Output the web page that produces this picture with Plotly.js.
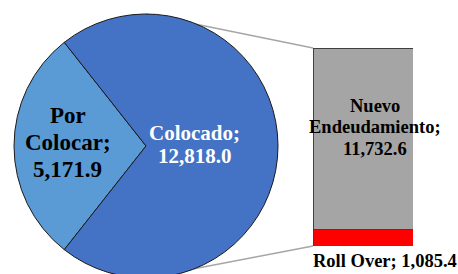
<!DOCTYPE html>
<html>
<head>
<meta charset="utf-8">
<script src="https://cdn.plot.ly/plotly-3.0.1.min.js"></script>
<style>
html,body{margin:0;padding:0;overflow:hidden;background:#fff;width:458px;height:274px;}
#chart{width:458px;height:292px;}
</style>
</head>
<body>
<div id="chart"></div>
<script>
// ---- data ----
var pieLabels = ["Por Colocar", "Colocado"];
var pieValues = [5171.9, 12818.0];
var pieColors = ["#5B9BD5", "#4472C4"];
var barLabels = ["Roll Over", "Nuevo Endeudamiento"];
var barValues = [1085.4, 11732.6];
var barColors = ["#FF0000", "#A5A5A5"];

// ---- layout constants (pixels) ----
var W = 458, H = 292, MT = 14, MB = 14;
var PH = H - MT - MB;
function px2x(px){ return px / W; }
function py2y(py){ return 1 - (py - MT) / PH; }

var pieLeft = 14, pieRight = 278;
var barLeft = 313, barRight = 413, barTop = 48, barBottom = 246;

function fmt(v){
  return v.toLocaleString("en-US", {minimumFractionDigits:1, maximumFractionDigits:1});
}

var total = pieValues.reduce(function(a,b){return a+b;}, 0);
var frac0 = pieValues[0] / total;
var rotation = -90 - frac0 * 180;

var traces = [{
  type: "pie",
  labels: pieLabels,
  values: pieValues,
  sort: false,
  direction: "counterclockwise",
  rotation: rotation,
  domain: {x: [px2x(pieLeft), px2x(pieRight)], y: [0, 1]},
  marker: {colors: pieColors, line: {color: "#1a1a1a", width: 1}},
  textinfo: "none",
  hoverinfo: "none",
  showlegend: false
}];
barLabels.forEach(function(lbl, i){
  traces.push({
    type: "bar",
    x: [0],
    y: [barValues[i]],
    width: [1],
    name: lbl,
    marker: {color: barColors[i], line: {color: "#404040", width: 1}},
    hoverinfo: "none",
    showlegend: false
  });
});

var barTotal = barValues.reduce(function(a,b){return a+b;}, 0);
var yDom = [py2y(barBottom), py2y(barTop)];

var fontFam = "Times New Roman";
var ann = [];
function addLines(lines, cx, baselines, size, color){
  lines.forEach(function(t, i){
    ann.push({
      xref: "paper", yref: "paper",
      x: px2x(cx), y: py2y(baselines[i] - 0.33 * size),
      xanchor: "center", yanchor: "middle",
      text: "<b>" + t + "</b>",
      showarrow: false,
      font: {family: fontFam, size: size, color: color}
    });
  });
}
addLines(["Por", "Colocar;", fmt(pieValues[0])], 67.5, [123, 150, 177], 23, "#000000");
addLines(["Colocado;", fmt(pieValues[1])], 194.5, [140, 163], 21, "#FFFFFF");
addLines(["Nuevo", "Endeudamiento;", fmt(barValues[1])], 375, [112, 133, 155], 18.5, "#000000");
addLines([barLabels[0] + "; " + fmt(barValues[0])], 385, [267], 18.5, "#000000");

var layout = {
  width: W, height: H,
  margin: {l: 0, r: 0, t: MT, b: MB, pad: 0},
  paper_bgcolor: "#FFFFFF",
  plot_bgcolor: "rgba(0,0,0,0)",
  barmode: "stack",
  showlegend: false,
  xaxis: {domain: [px2x(barLeft), px2x(barRight)], range: [-0.5, 0.5],
          showgrid: false, zeroline: false, showticklabels: false, showline: false, ticks: "", fixedrange: true},
  yaxis: {domain: yDom, range: [0, barTotal],
          showgrid: false, zeroline: false, showticklabels: false, showline: false, ticks: "", fixedrange: true},
  shapes: [
    {type: "line", xref: "paper", yref: "paper", layer: "below",
     x0: px2x((pieLeft + pieRight) / 2), y0: 1, x1: px2x(barLeft), y1: yDom[1],
     line: {color: "#A6A6A6", width: 1.5}},
    {type: "line", xref: "paper", yref: "paper", layer: "below",
     x0: px2x((pieLeft + pieRight) / 2), y0: 0, x1: px2x(barLeft), y1: yDom[0],
     line: {color: "#A6A6A6", width: 1.5}}
  ],
  annotations: ann
};

Plotly.newPlot("chart", traces, layout, {displayModeBar: false, staticPlot: true});
</script>
</body>
</html>
